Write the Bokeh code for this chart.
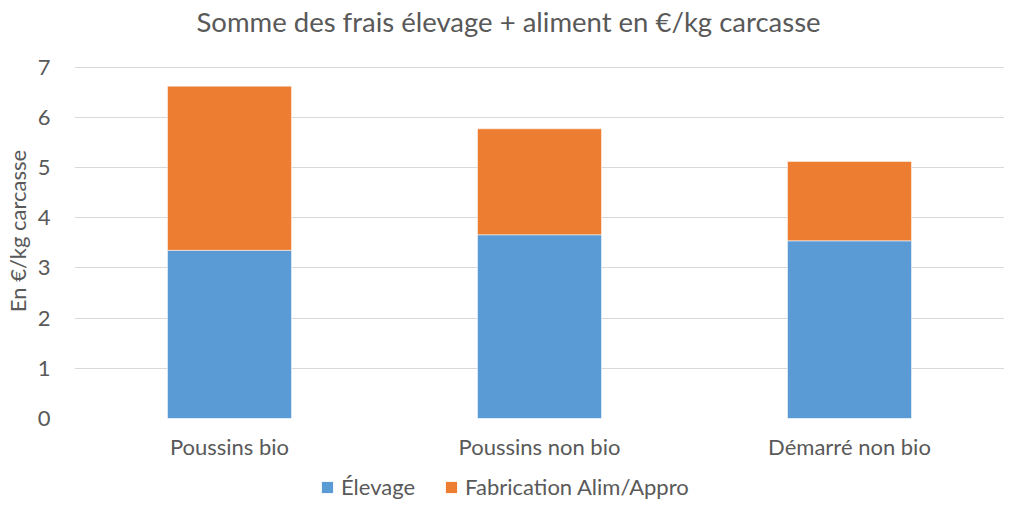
from bokeh.plotting import figure
from bokeh.layouts import column
from bokeh.models import ColumnDataSource, FactorRange, Range1d, Legend, LegendItem, FixedTicker
from bokeh.embed import file_html
from bokeh.resources import INLINE

categories = ["Poussins bio", "Poussins non bio", "Démarré non bio"]
series = ["Élevage", "Fabrication Alim/Appro"]
elevage = [3.35, 3.66, 3.54]
fabrication = [3.27, 2.11, 1.58]
y_ticks = [0, 1, 2, 3, 4, 5, 6, 7]
colors = ["#5B9BD5", "#ED7D31"]

FONT = "Lato"
TXT = "#595959"

src = ColumnDataSource(data={"cat": categories, "Élevage": elevage, "Fabrication Alim/Appro": fabrication})

p = figure(x_range=FactorRange(*categories, range_padding=0), y_range=Range1d(0, 7.47),
           width=1004, height=462, output_backend="svg", toolbar_location=None,
           min_border_left=66, min_border_right=0, min_border_top=0, min_border_bottom=0)

rs = p.vbar_stack(series, x="cat", width=0.4, color=colors, source=src,
                  line_color="white", line_alpha=0.5, line_width=1)

p.title.text = "Somme des frais élevage + aliment en €/kg carcasse"
p.title.align = "left"
p.title.offset = 122
p.title.vertical_align = "top"
p.title.standoff = 8
p.title.text_font = FONT
p.title.text_font_size = "27.5px"
p.title.text_font_style = "normal"
p.title.text_color = TXT

p.yaxis.ticker = FixedTicker(ticks=y_ticks)
p.yaxis.axis_label = "En €/kg carcasse"
for ax in (p.xaxis[0], p.yaxis[0]):
    ax.axis_line_color = None
    ax.major_tick_line_color = None
    ax.minor_tick_line_color = None
    ax.major_tick_out = 0
    ax.major_tick_in = 0
    ax.major_label_text_font = FONT
    ax.major_label_text_font_size = "22px"
    ax.major_label_text_color = TXT
p.yaxis.axis_label_text_font = FONT
p.yaxis.axis_label_text_font_size = "22px"
p.yaxis.axis_label_text_font_style = "normal"
p.yaxis.axis_label_text_color = TXT
p.yaxis.major_label_standoff = 24
p.yaxis.axis_label_standoff = 4
p.xaxis.major_label_standoff = 14

p.xgrid.grid_line_color = None
p.ygrid.grid_line_color = "#D9D9D9"
p.ygrid.grid_line_width = 1
p.outline_line_color = None

# legend strip below the chart (same series, drawn outside its visible range)
p2 = figure(x_range=p.x_range, y_range=Range1d(100, 101), width=1004, height=38,
            output_backend="svg", toolbar_location=None,
            x_axis_location=None, y_axis_location=None,
            min_border_left=0, min_border_right=0, min_border_top=0, min_border_bottom=0)
p2.xgrid.grid_line_color = None
p2.ygrid.grid_line_color = None
p2.outline_line_color = None
rs2 = p2.vbar_stack(series, x="cat", width=0.4, color=colors, source=src, line_color=None)

legend = Legend(items=[LegendItem(label=s, renderers=[r]) for s, r in zip(series, rs2)],
                orientation="horizontal", location=(246, 0),
                label_text_font=FONT, label_text_font_size="22px", label_text_color=TXT,
                glyph_width=14, glyph_height=14, label_standoff=7, spacing=29,
                border_line_color=None, background_fill_alpha=0, padding=0, margin=0)
p2.add_layout(legend, "center")

layout = column(p, p2, spacing=0)
open("out.html", "w").write(file_html(layout, INLINE))
